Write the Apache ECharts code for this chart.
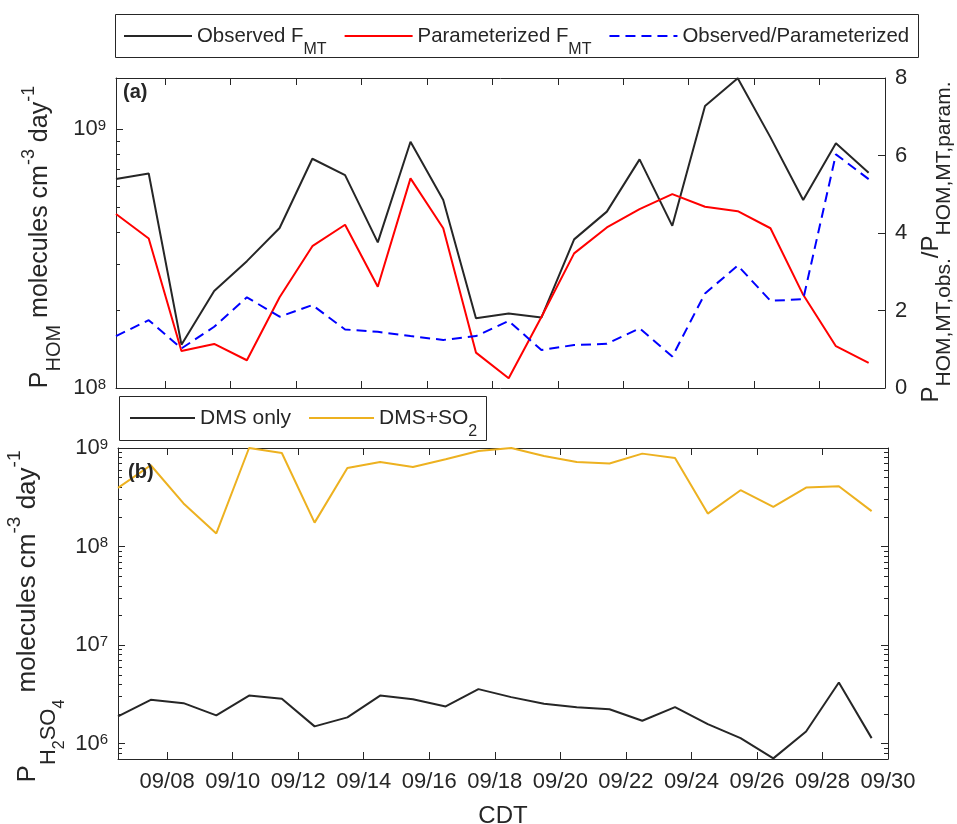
<!DOCTYPE html>
<html>
<head>
<meta charset="utf-8">
<script src="https://cdn.jsdelivr.net/npm/echarts@6/dist/echarts.min.js"></script>
<style>html,body{margin:0;padding:0;background:#fff}#c{width:957px;height:824px}</style>
</head>
<body>
<div id="c"></div>
<script>
// ---- data (day of September, at noon) ----
const days = [6.5, 7.5, 8.5, 9.5, 10.5, 11.5, 12.5, 13.5, 14.5, 15.5, 16.5, 17.5,
              18.5, 19.5, 20.5, 21.5, 22.5, 23.5, 24.5, 25.5, 26.5, 27.5, 28.5, 29.5];
const observedFMT = [6.41e8, 6.74e8, 1.47e8, 2.37e8, 3.09e8, 4.15e8, 7.68e8, 6.64e8, 3.65e8, 8.93e8, 5.32e8, 1.86e8,
                     1.94e8, 1.87e8, 3.75e8, 4.80e8, 7.64e8, 4.23e8, 1.227e9, 1.57e9, 9.29e8, 5.32e8, 8.81e8, 6.78e8];
const parameterizedFMT = [4.70e8, 3.78e8, 1.39e8, 1.48e8, 1.28e8, 2.24e8, 3.53e8, 4.27e8, 2.46e8, 6.45e8, 4.14e8, 1.37e8,
                          1.09e8, 1.88e8, 3.31e8, 4.17e8, 4.91e8, 5.61e8, 5.01e8, 4.82e8, 4.14e8, 2.29e8, 1.45e8, 1.25e8];
const obsOverParam = [1.34, 1.75, 1.02, 1.58, 2.34, 1.84, 2.14, 1.51, 1.45, 1.34, 1.24, 1.34,
                      1.73, 0.98, 1.11, 1.14, 1.54, 0.81, 2.44, 3.16, 2.25, 2.29, 6.03, 5.39];
const dmsOnly = [1.89e6, 2.79e6, 2.58e6, 1.94e6, 3.08e6, 2.86e6, 1.50e6, 1.85e6, 3.08e6, 2.83e6, 2.39e6, 3.58e6,
                 2.97e6, 2.54e6, 2.35e6, 2.24e6, 1.71e6, 2.35e6, 1.58e6, 1.14e6, 7.1e5, 1.33e6, 4.18e6, 1.14e6];
const dmsSO2 = [3.94e8, 6.68e8, 2.74e8, 1.36e8, 1.0e9, 8.9e8, 1.75e8, 6.27e8, 7.21e8, 6.42e8, 7.68e8, 9.33e8,
                1.0e9, 8.3e8, 7.21e8, 6.95e8, 8.77e8, 7.92e8, 2.16e8, 3.73e8, 2.53e8, 3.97e8, 4.09e8, 2.29e8];

// ---- ticks ----
const xTicks = [8, 10, 12, 14, 16, 18, 20, 22, 24, 26, 28, 30];
const homMajor = [1e8, 1e9];
const homMinor = [2e8, 3e8, 4e8, 5e8, 6e8, 7e8, 8e8, 9e8];
const h2so4Major = [1e6, 1e7, 1e8, 1e9];
const h2so4Minor = [8e5, 9e5, 2e6, 3e6, 4e6, 5e6, 6e6, 7e6, 8e6, 9e6,
                    2e7, 3e7, 4e7, 5e7, 6e7, 7e7, 8e7, 9e7,
                    2e8, 3e8, 4e8, 5e8, 6e8, 7e8, 8e8, 9e8];

const FONT = '"Liberation Sans", Arial, Helvetica, sans-serif';
const AX = '#262626';

function pair(xs, ys) { return xs.map((x, i) => [x, ys[i]]); }
function pow10Label(v) { const e = Math.round(Math.log10(v)); return '{b|10}{p|' + e + '}'; }
function dateLabel(v) { return '09/' + (v < 10 ? '0' : '') + v; }

const powRich = {
  b: { fontSize: 22, lineHeight: 22, padding: [8, 0, 0, 0], verticalAlign: 'bottom', fontFamily: FONT, color: AX },
  p: { fontSize: 15, lineHeight: 20, verticalAlign: 'top', fontFamily: FONT, color: AX }
};
// Rich styles for titles: L = line box height, *Off = offset of the token centre from the main text centre
function tok(size, L, off) {
  return { fontSize: size, lineHeight: 1, verticalAlign: 'top',
           padding: [Math.max(0, L / 2 + off - size / 2), 0, 0, 0], fontFamily: FONT, color: AX };
}
function titleRich(mainSize, L, supSize, supOff, subSize, subOff, ssSize, ssOff) {
  return {
    m: { fontSize: mainSize, lineHeight: L, verticalAlign: 'middle', fontFamily: FONT, color: AX },
    p: tok(supSize, L, supOff),
    s: tok(subSize, L, subOff),
    ss: tok(ssSize, L, ssOff)
  };
}
const legendRich = {
  s: { fontSize: 16, lineHeight: 16, verticalAlign: 'bottom', fontFamily: FONT, color: AX }
};
const legendNames = {
  'Observed F_MT': 'Observed F{s|MT}',
  'Parameterized F_MT': 'Parameterized F{s|MT}',
  'Observed/Parameterized': 'Observed/Parameterized',
  'DMS only': 'DMS only',
  'DMS+SO2': 'DMS+SO{s|2}'
};

const axisLine = { show: true, lineStyle: { color: AX, width: 1 } };
function xAx(grid, pos, labels, name) {
  return {
    type: 'value', gridIndex: grid, position: pos, min: 6.5, max: 30,
    axisLine: axisLine, splitLine: { show: false },
    axisTick: { show: true, inside: true, length: 7, customValues: xTicks, lineStyle: { color: AX } },
    axisLabel: labels ? { show: true, customValues: xTicks, formatter: dateLabel, fontSize: 22, fontFamily: FONT, color: AX, margin: 12 } : { show: false },
    name: name || '', nameLocation: 'middle', nameGap: 45, nameMoveOverlap: false,
    nameTextStyle: { fontSize: 24, fontFamily: FONT, color: AX }
  };
}
function logAx(grid, pos, min, max, ticks, len, labels, line, name, gap, pad, rich, lh) {
  return {
    type: 'log', logBase: 10, gridIndex: grid, position: pos, min: min, max: max,
    axisLine: line ? axisLine : { show: false }, splitLine: { show: false },
    axisTick: { show: true, inside: true, length: len, customValues: ticks, lineStyle: { color: AX } },
    axisLabel: labels ? { show: true, customValues: ticks, formatter: pow10Label, margin: 10, rich: powRich } : { show: false },
    name: name || '', nameLocation: 'middle', nameRotate: 90, nameGap: gap || 0, nameMoveOverlap: false,
    nameTextStyle: { fontSize: 24, lineHeight: lh || 48, fontFamily: FONT, color: AX, rich: rich || {}, padding: pad || 0 }
  };
}

const legendBase = {
  padding: 0, itemHeight: 14, selectedMode: false,
  itemStyle: { opacity: 0 },
  formatter: n => legendNames[n]
};

const option = {
  animation: false,
  backgroundColor: '#fff',
  grid: [
    { left: 116, top: 78, width: 769, height: 310, outerBoundsMode: 'none', containLabel: false },
    { left: 118, top: 448, width: 770, height: 311, outerBoundsMode: 'none', containLabel: false }
  ],
  xAxis: [
    xAx(0, 'bottom', false),
    xAx(0, 'top', false),
    xAx(1, 'bottom', true, 'CDT'),
    xAx(1, 'top', false)
  ],
  yAxis: [
    logAx(0, 'left', 1e8, 1.575e9, homMajor, 7, true, true,
      '{m|P}{s|HOM}{m| molecules cm}{p|-3}{m| day}{p|-1}', 52, [0, 8, 0, 0],
      titleRich(25, 48, 18, -10.5, 20, 14, 15, 22), 48),
    {
      type: 'value', gridIndex: 0, position: 'right', min: 0, max: 8, interval: 2,
      axisLine: axisLine, splitLine: { show: false },
      axisTick: { show: true, inside: true, length: 7, lineStyle: { color: AX } },
      axisLabel: { show: true, fontSize: 22, fontFamily: FONT, color: AX, margin: 10 },
      name: '{m|P}{s|HOM,MT,obs.}{m|/P}{s|HOM,MT,param.}', nameLocation: 'middle', nameRotate: 90, nameGap: 22,
      nameMoveOverlap: false,
      nameTextStyle: { fontSize: 24, lineHeight: 48, fontFamily: FONT, color: AX,
        rich: titleRich(24, 48, 18, -10.5, 21, 13.5, 15, 22), padding: [0, 18, 0, 0] }
    },
    logAx(0, 'left', 1e8, 1.575e9, homMinor, 4, false, false),
    logAx(1, 'left', 7e5, 1e9, h2so4Major, 7, true, true,
      '{m|P}{s|H}{ss|2}{s|SO}{ss|4}{m| molecules cm}{p|-3}{m| day}{p|-1}', 56, [0, 26, 0, 0],
      titleRich(26, 68, 19, -13, 22, 21, 16, 32), 68),
    logAx(1, 'left', 7e5, 1e9, h2so4Minor, 4, false, false),
    logAx(1, 'right', 7e5, 1e9, h2so4Major, 7, false, true),
    logAx(1, 'right', 7e5, 1e9, h2so4Minor, 4, false, false)
  ],
  legend: [
    Object.assign({}, legendBase, {
      left: 123, top: 14, itemGap: 17, itemWidth: 68,
      data: ['Observed F_MT', 'Parameterized F_MT', 'Observed/Parameterized'],
      textStyle: { fontSize: 20.4, lineHeight: 44, fontFamily: FONT, color: AX, rich: legendRich }
    }),
    Object.assign({}, legendBase, {
      left: 129, top: 396, itemGap: 17, itemWidth: 65,
      data: ['DMS only', 'DMS+SO2'],
      textStyle: { fontSize: 21, lineHeight: 44, fontFamily: FONT, color: AX, rich: legendRich }
    })
  ],
  graphic: [
    { type: 'rect', z: 0, shape: { x: 115.5, y: 14.5, width: 803, height: 43 }, style: { fill: '#fff', stroke: AX, lineWidth: 1 } },
    { type: 'rect', z: 0, shape: { x: 119.5, y: 396.5, width: 367, height: 44 }, style: { fill: '#fff', stroke: AX, lineWidth: 1 } },
    { type: 'text', z: 10, left: 123, top: 82, style: { text: '(a)', font: 'bold 20px ' + FONT, fill: AX } },
    { type: 'text', z: 10, left: 128, top: 462, style: { text: '(b)', font: 'bold 20px ' + FONT, fill: AX } }
  ],
  series: [
    { name: 'Observed F_MT', type: 'line', xAxisIndex: 0, yAxisIndex: 0, data: pair(days, observedFMT),
      symbol: 'none', lineStyle: { color: '#262626', width: 2 }, itemStyle: { color: '#262626' } },
    { name: 'Parameterized F_MT', type: 'line', xAxisIndex: 0, yAxisIndex: 0, data: pair(days, parameterizedFMT),
      symbol: 'none', lineStyle: { color: '#ff0000', width: 2 }, itemStyle: { color: '#ff0000' } },
    { name: 'Observed/Parameterized', type: 'line', xAxisIndex: 0, yAxisIndex: 1, data: pair(days, obsOverParam),
      symbol: 'none', lineStyle: { color: '#0000ff', width: 2, type: [10, 6] }, itemStyle: { color: '#0000ff' } },
    { name: 'DMS only', type: 'line', xAxisIndex: 2, yAxisIndex: 3, data: pair(days, dmsOnly),
      symbol: 'none', lineStyle: { color: '#262626', width: 2 }, itemStyle: { color: '#262626' } },
    { name: 'DMS+SO2', type: 'line', xAxisIndex: 2, yAxisIndex: 3, data: pair(days, dmsSO2),
      symbol: 'none', lineStyle: { color: '#EDB120', width: 2 }, itemStyle: { color: '#EDB120' } }
  ]
};

const chart = echarts.init(document.getElementById('c'), null, { renderer: 'canvas' });
chart.setOption(option);
</script>
</body>
</html>
